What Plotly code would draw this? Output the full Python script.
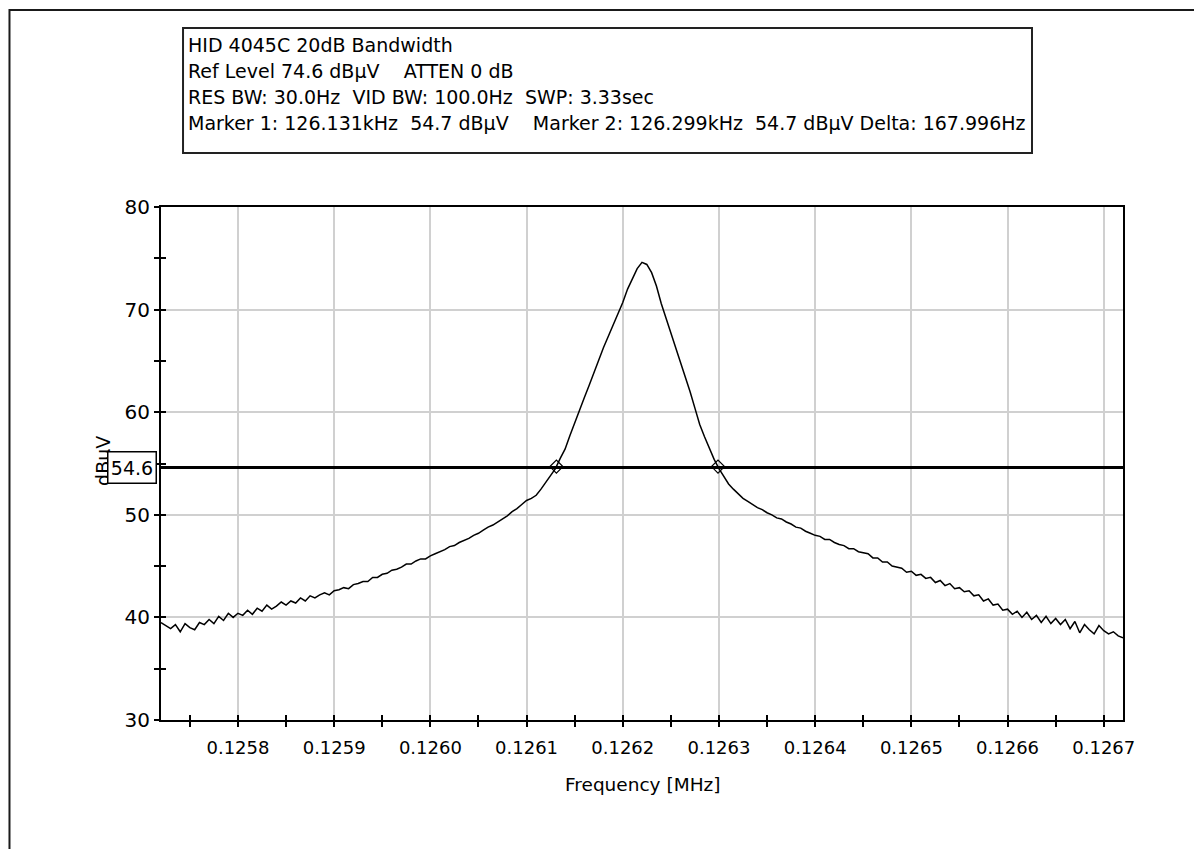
import plotly.graph_objects as go

# ---- data ----
freq_khz = [
    125.720, 125.725, 125.730, 125.735, 125.740, 125.745, 125.750, 125.755, 125.760, 125.765,
    125.770, 125.775, 125.780, 125.785, 125.790, 125.795, 125.800, 125.805, 125.810, 125.815,
    125.820, 125.825, 125.830, 125.835, 125.840, 125.845, 125.850, 125.855, 125.860, 125.865,
    125.870, 125.875, 125.880, 125.885, 125.890, 125.895, 125.900, 125.905, 125.910, 125.915,
    125.920, 125.925, 125.930, 125.935, 125.940, 125.945, 125.950, 125.955, 125.960, 125.965,
    125.970, 125.975, 125.980, 125.985, 125.990, 125.995, 126.000, 126.005, 126.010, 126.015,
    126.020, 126.025, 126.030, 126.035, 126.040, 126.045, 126.050, 126.055, 126.060, 126.065,
    126.070, 126.075, 126.080, 126.085, 126.090, 126.095, 126.100, 126.105, 126.110, 126.115,
    126.120, 126.125, 126.130, 126.135, 126.140, 126.145, 126.150, 126.155, 126.160, 126.165,
    126.170, 126.175, 126.180, 126.185, 126.190, 126.195, 126.200, 126.205, 126.210, 126.215,
    126.220, 126.225, 126.230, 126.235, 126.240, 126.245, 126.250, 126.255, 126.260, 126.265,
    126.270, 126.275, 126.280, 126.285, 126.290, 126.295, 126.300, 126.305, 126.310, 126.315,
    126.320, 126.325, 126.330, 126.335, 126.340, 126.345, 126.350, 126.355, 126.360, 126.365,
    126.370, 126.375, 126.380, 126.385, 126.390, 126.395, 126.400, 126.405, 126.410, 126.415,
    126.420, 126.425, 126.430, 126.435, 126.440, 126.445, 126.450, 126.455, 126.460, 126.465,
    126.470, 126.475, 126.480, 126.485, 126.490, 126.495, 126.500, 126.505, 126.510, 126.515,
    126.520, 126.525, 126.530, 126.535, 126.540, 126.545, 126.550, 126.555, 126.560, 126.565,
    126.570, 126.575, 126.580, 126.585, 126.590, 126.595, 126.600, 126.605, 126.610, 126.615,
    126.620, 126.625, 126.630, 126.635, 126.640, 126.645, 126.650, 126.655, 126.660, 126.665,
    126.670, 126.675, 126.680, 126.685, 126.690, 126.695, 126.700, 126.705, 126.710, 126.715,
    126.720,
]
level_dbuv = [
    39.5, 39.2, 38.9, 39.3, 38.6, 39.4, 39.0, 38.8, 39.5, 39.3,
    39.8, 39.4, 40.1, 39.7, 40.4, 40.0, 40.4, 40.2, 40.7, 40.3,
    40.9, 40.6, 41.2, 40.8, 41.1, 41.5, 41.2, 41.6, 41.4, 41.9,
    41.6, 42.1, 41.9, 42.2, 42.4, 42.2, 42.6, 42.7, 42.9, 42.8,
    43.2, 43.3, 43.5, 43.5, 43.9, 43.9, 44.2, 44.3, 44.6, 44.7,
    44.9, 45.2, 45.2, 45.5, 45.7, 45.7, 46.0, 46.2, 46.4, 46.6,
    46.9, 47.0, 47.3, 47.5, 47.7, 48.0, 48.2, 48.5, 48.8, 49.0,
    49.3, 49.6, 49.9, 50.3, 50.6, 51.0, 51.4, 51.6, 51.9, 52.5,
    53.2, 53.8, 54.5, 55.5, 56.4, 57.7, 59.0, 60.2, 61.4, 62.6,
    63.9, 65.1, 66.3, 67.4, 68.5, 69.6, 70.7, 72.0, 73.0, 74.0,
    74.6, 74.4, 73.6, 72.3, 70.6, 69.2, 67.8, 66.3, 64.9, 63.4,
    62.0, 60.4, 58.8, 57.6, 56.5, 55.4, 54.5, 53.7, 53.0, 52.5,
    52.0, 51.6, 51.3, 51.0, 50.7, 50.5, 50.2, 50.0, 49.7, 49.6,
    49.3, 49.1, 48.8, 48.7, 48.4, 48.2, 48.0, 47.9, 47.6, 47.6,
    47.3, 47.1, 47.0, 46.7, 46.7, 46.4, 46.3, 46.2, 45.8, 45.8,
    45.4, 45.4, 45.0, 44.9, 44.8, 44.4, 44.5, 44.1, 44.2, 43.8,
    43.9, 43.4, 43.6, 43.1, 43.3, 42.8, 42.9, 42.5, 42.6, 42.1,
    42.2, 41.6, 41.8, 41.2, 41.3, 40.7, 40.8, 40.3, 40.6, 40.0,
    40.5, 39.8, 40.2, 39.5, 40.1, 39.4, 39.9, 39.3, 39.8, 38.9,
    39.6, 38.5, 39.3, 38.8, 38.4, 39.2, 38.7, 38.4, 38.6, 38.2,
    38.0,
]
marker_khz = [126.131, 126.299]
marker_dbuv = [54.7, 54.7]
threshold_dbuv = 54.6
x_range_mhz = [0.12572, 0.12672]
y_range = [30, 80]

info_lines = [
    "HID 4045C 20dB Bandwidth",
    "Ref Level 74.6 dB\u00b5V    ATTEN 0 dB",
    "RES BW: 30.0Hz  VID BW: 100.0Hz  SWP: 3.33sec",
    "Marker 1: 126.131kHz  54.7 dB\u00b5V    Marker 2: 126.299kHz  54.7 dB\u00b5V Delta: 167.996Hz",
]

FONT = "DejaVu Sans, Verdana, sans-serif"

fig = go.Figure()
fig.add_trace(go.Scatter(
    x=[f / 1000 for f in freq_khz], y=level_dbuv, mode="lines",
    line=dict(color="black", width=1.5), showlegend=False, hoverinfo="skip",
))
fig.add_trace(go.Scatter(
    x=[f / 1000 for f in marker_khz], y=marker_dbuv, mode="markers",
    marker=dict(symbol="diamond-open", size=10, color="black", line=dict(width=1.2, color="black")),
    showlegend=False, xaxis="x2", yaxis="y2",
))

fig.add_shape(type="line", xref="x domain", yref="y", x0=0, x1=1,
              y0=threshold_dbuv, y1=threshold_dbuv, line=dict(color="black", width=3))

# outer frame
fig.add_shape(type="rect", xref="paper", yref="paper", x0=-0.1575, x1=1.2, y0=-0.4, y1=1.384,
              line=dict(color="#1a1a1a", width=2), fillcolor="rgba(0,0,0,0)", layer="below")
# info box frame
fig.add_shape(type="rect", xref="paper", yref="paper", x0=0.0229, x1=0.9054, y0=1.1053, y1=1.3489,
              line=dict(color="#222222", width=2), fillcolor="white", layer="below")

axis_common = dict(showline=True, linecolor="black", linewidth=2, mirror=True, zeroline=False)

fig.update_layout(
    width=1186, height=841,
    margin=dict(l=153, r=71, t=199, b=129),
    paper_bgcolor="white", plot_bgcolor="white",
    font=dict(family=FONT, color="black"),
    xaxis=dict(
        range=x_range_mhz, tick0=0.1258, dtick=0.0001, tickformat=".4f",
        showgrid=True, gridcolor="#d0d0d0", gridwidth=1.5,
        ticks="outside", ticklen=5, tickwidth=1.5, tickcolor="black",
        minor=dict(dtick=0.00005, tick0=0.1258, ticks="outside", ticklen=5, tickwidth=1.5,
                   tickcolor="black", showgrid=False),
        tickfont=dict(size=18, family=FONT), ticklabelstandoff=5,
        **axis_common,
    ),
    yaxis=dict(
        range=y_range, dtick=10, showgrid=True, gridcolor="#d0d0d0", gridwidth=1.5,
        ticks="outside", ticklen=5, tickwidth=1.5, tickcolor="black",
        minor=dict(dtick=5, ticks="outside", ticklen=5, tickwidth=1.5, tickcolor="black",
                   showgrid=False),
        tickfont=dict(size=20, family=FONT),
        **axis_common,
    ),
    xaxis2=dict(
        range=x_range_mhz, overlaying="x", anchor="y2", tick0=0.1258, dtick=0.0001,
        showgrid=False, showticklabels=False, ticks="inside", ticklen=5, tickwidth=1.5,
        tickcolor="black", side="bottom", zeroline=False, showline=False,
        minor=dict(dtick=0.00005, tick0=0.1258, ticks="inside", ticklen=5, tickwidth=1.5,
                   tickcolor="black", showgrid=False),
    ),
    yaxis2=dict(
        range=y_range, overlaying="y", anchor="x2", dtick=10, showgrid=False,
        showticklabels=False, ticks="inside", ticklen=5, tickwidth=1.5, tickcolor="black",
        side="left", zeroline=False, showline=False,
        minor=dict(dtick=5, ticks="inside", ticklen=5, tickwidth=1.5, tickcolor="black",
                   showgrid=False),
    ),
)

# x-axis title
fig.add_annotation(text="Frequency [MHz]", xref="paper", yref="paper", x=0.5, y=-0.1267,
                   xanchor="center", yanchor="middle", showarrow=False,
                   font=dict(size=18.5, family=FONT))
# y-axis title
fig.add_annotation(text="dB\u00b5V", xref="paper", yref="paper", x=-0.0603, y=0.505,
                   xanchor="center", yanchor="middle", textangle=-90, showarrow=False,
                   font=dict(size=19, family=FONT))
# threshold label box
fig.add_annotation(text=str(threshold_dbuv), xref="paper", yref="y", x=-0.0301, y=threshold_dbuv,
                   xanchor="center", yanchor="middle", showarrow=False,
                   font=dict(size=19, family=FONT), bgcolor="white",
                   bordercolor="black", borderwidth=1.5, borderpad=1, width=45, height=28)
# info box lines
line_y = [1.3158, 1.2651, 1.2144, 1.1637]
for txt, yy in zip(info_lines, line_y):
    fig.add_annotation(text=txt, xref="paper", yref="paper", x=0.0255, y=yy,
                       xanchor="left", yanchor="middle", align="left", showarrow=False,
                       font=dict(size=19, family=FONT))

fig.write_html("out.html")
